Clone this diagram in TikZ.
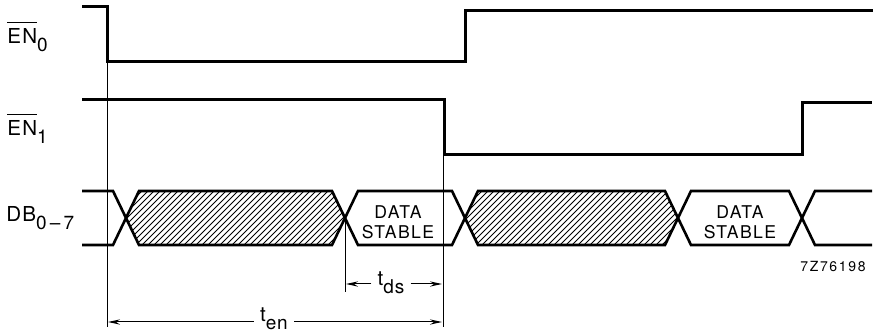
\documentclass[tikz,border=0pt]{standalone}
\usepackage{fontspec}
\setmainfont{TeX Gyre Heros}
\usetikzlibrary{arrows.meta}
\newlength{\du}
\setlength{\du}{0.5pt}
\newcommand{\lowsub}[1]{\raisebox{-4pt}{\fontsize{9.5}{10}\selectfont #1}}
\newcommand{\barsig}[2]{$\overline{\mbox{\rule{0pt}{9.6pt}#1}}$\lowsub{#2}}

\begin{document}
\begin{tikzpicture}[
  sig/.style={line width=1.5pt, line join=miter},
  bus/.style={line width=1.3pt, line join=miter},
  guide/.style={line width=0.5pt},
  hatchline/.style={line width=0.5pt},
  dim/.style={line width=0.5pt, -{Stealth[length=6pt,width=2.6pt]}},
  siglabel/.style={inner sep=0pt, anchor=base west, font=\fontsize{10.3}{12}\selectfont\addfontfeature{LetterSpace=6}},
  stablelabel/.style={inner sep=0pt, align=center, font=\fontsize{8.8}{10}\selectfont\addfontfeature{LetterSpace=8}},
  timelabel/.style={inner ysep=0pt, inner xsep=3pt, font=\fontsize{10.3}{12}\selectfont\addfontfeature{LetterSpace=4}},
]
\pgftransformxscale{1.000000}
\pgftransformyscale{-1.000000}
\useasboundingbox (0\du,0\du) rectangle (874\du,331\du);
% signal names
\node[siglabel] (en0) at (7\du,44\du){\barsig{EN}{0}};
\node[siglabel] (en1) at (7\du,136\du){\barsig{EN}{1}};
\node[siglabel] (db) at (6\du,222\du){DB\lowsub{0\,--\,7}};
% enable lines
\draw[sig] (82\du,7\du)--(107\du,7\du)--(107\du,62\du)--(465\du,62\du)--(465\du,11\du)--(873\du,11\du);
\draw[sig] (82\du,100\du)--(444\du,100\du)--(444\du,155\du)--(802\du,155\du)--(802\du,103\du)--(872\du,103\du);
% hatched windows on the bus
\begin{scope}
\clip (126\du,218\du)--(139\du,191\du)--(332\du,191\du)--(345\du,218\du)--(332\du,245\du)--(139\du,245\du)--cycle;
\foreach \h in {70,76,...,350}
  \draw[hatchline] (\h\du,245\du)--(\h\du+54\du,191\du);
\end{scope}
\begin{scope}
\clip (465\du,218\du)--(478\du,191\du)--(665\du,191\du)--(678\du,218\du)--(665\du,245\du)--(478\du,245\du)--cycle;
\foreach \h in {410,416,...,680}
  \draw[hatchline] (\h\du,245\du)--(\h\du+54\du,191\du);
\end{scope}
% bus lines
\draw[bus] (82\du,191\du)--(113\du,191\du)--(139\du,245\du)--(332\du,245\du)--(358\du,191\du)--(452\du,191\du)--(478\du,245\du)--(665\du,245\du)--(691\du,191\du)--(789\du,191\du)--(815\du,245\du)--(872\du,245\du);
\draw[bus] (82\du,245\du)--(113\du,245\du)--(139\du,191\du)--(332\du,191\du)--(358\du,245\du)--(452\du,245\du)--(478\du,191\du)--(665\du,191\du)--(691\du,245\du)--(789\du,245\du)--(815\du,191\du)--(872\du,191\du);
\node[stablelabel] (stable1) at (398\du,222\du){DATA\\STABLE};
\node[stablelabel] (stable2) at (740\du,222\du){DATA\\STABLE};
% guide lines
\coordinate (g1top) at (107\du,62\du);
\coordinate (g1bot) at (107\du,327\du);
\coordinate (g2top) at (443\du,155\du);
\coordinate (g2bot) at (443\du,327\du);
\coordinate (g3top) at (345\du,218\du);
\coordinate (g3bot) at (345\du,292\du);
\draw[guide] (g1top)--(g1bot);
\draw[guide] (g2top)--(g2bot);
\draw[guide] (g3top)--(g3bot);
% timing marks
\node[timelabel] (tds) at (391\du,283\du){t\lowsub{ds}};
\coordinate (tdsL) at (346\du,284\du);
\coordinate (tdsR) at (442\du,284\du);
\draw[dim] (tds.west|-tdsL)--(tdsL);
\draw[dim] (tds.east|-tdsR)--(tdsR);
\node[timelabel] (ten) at (274\du,319\du){t\lowsub{en}};
\coordinate (tenL) at (108\du,322\du);
\coordinate (tenR) at (442\du,322\du);
\draw[dim] (ten.west|-tenL)--(tenL);
\draw[dim] (ten.east|-tenR)--(tenR);
% figure code
\node[inner sep=0pt, font=\fontsize{7}{8}\selectfont\addfontfeature{LetterSpace=12}] (figcode) at (833\du,267\du){7Z76198};
\end{tikzpicture}
\end{document}
